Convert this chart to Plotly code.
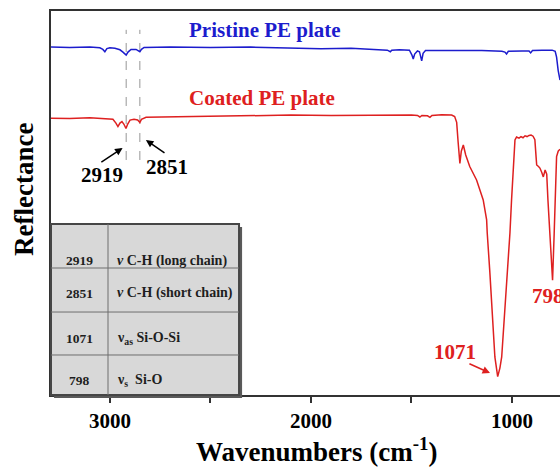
import plotly.graph_objects as go

# ---- data ----
pristine_wn = [3293, 3200, 3100, 3050, 3035, 3025, 3015, 3000, 2975, 2950, 2935, 2925, 2919, 2910,
               2895, 2870, 2860, 2851, 2843, 2830, 2700, 2500, 2300, 2100, 1950, 1800, 1700, 1620,
               1605, 1598, 1560, 1510, 1498, 1491, 1484, 1470, 1460, 1449, 1442, 1430, 1300, 1150,
               1050, 1035, 1027, 1018, 950, 915, 907, 898, 850, 800, 785, 778, 770, 761]
pristine_r = [90.6, 90.5, 90.6, 90.4, 90.0, 89.4, 90.2, 90.4, 90.3, 89.9, 89.3, 88.6, 88.5, 89.3,
              90.0, 90.0, 89.6, 89.4, 90.0, 90.5, 90.6, 90.5, 90.6, 90.4, 90.2, 90.3, 90.0, 89.8,
              89.4, 89.8, 89.9, 89.8, 88.6, 87.5, 88.8, 89.6, 89.4, 87.0, 89.0, 89.7, 89.7, 89.7,
              89.5, 89.3, 88.8, 89.5, 89.6, 89.6, 89.1, 89.7, 89.8, 89.8, 89.5, 88.0, 84.5, 82.0]

coated_wn = [3293, 3200, 3100, 3050, 3000, 2985, 2970, 2960, 2950, 2940, 2930, 2920, 2912, 2900,
             2880, 2862, 2851, 2843, 2820, 2700, 2500, 2300, 2100, 1900, 1700, 1500, 1470, 1458,
             1448, 1420, 1408, 1398, 1350, 1300, 1285, 1275, 1268, 1262, 1259, 1252, 1242, 1230,
             1210, 1176, 1143, 1126, 1123, 1110, 1101, 1085, 1071, 1060, 1051, 1040, 1027, 1010,
             1002, 993, 985, 977, 965, 955, 945, 935, 925, 915, 905, 895, 886, 880, 877, 868,
             861, 852, 844, 835, 827, 821, 811, 798, 790, 786, 778, 770, 761]
coated_r = [72.1, 72.0, 72.2, 72.1, 72.0, 71.8, 70.8, 69.9, 70.8, 71.2, 70.5, 69.4, 70.5, 71.6,
            71.8, 71.6, 71.0, 71.8, 72.3, 72.4, 72.7, 72.8, 72.9, 72.8, 72.9, 72.9, 72.8, 72.4,
            72.8, 72.7, 72.3, 72.8, 73.0, 72.9, 72.5, 71.0, 66.0, 61.0, 60.3, 63.5, 65.1, 62.5,
            59.5, 56.0, 50.8, 45.6, 42.2, 32.0, 24.7, 9.9, 4.8, 7.0, 9.9, 18.0, 29.2, 42.2,
            50.8, 60.0, 66.4, 67.2, 66.9, 67.3, 67.0, 67.5, 67.3, 67.6, 67.7, 67.4, 66.5, 62.0,
            59.9, 59.5, 59.1, 58.0, 56.8, 58.6, 57.5, 50.8, 40.0, 29.9, 42.0, 50.8, 62.1, 63.5, 64.0]

marker_wn = [2919, 2851]
marker_span = [61.2, 95.1]

table_wn = ["2919", "2851", "1071", "798"]
table_desc = ["<i>ν</i> C-H (long chain)", "<i>ν</i> C-H (short chain)",
              "ν<sub>as</sub> Si-O-Si", "ν<sub>s</sub>  Si-O"]

x_ticks = [3000, 2000, 1000]

FONT = "Liberation Serif"
BLUE = "rgb(28,28,205)"
RED = "rgb(222,32,32)"

fig = go.Figure()

for w in marker_wn:
    fig.add_trace(go.Scatter(x=[w, w], y=marker_span, mode="lines",
                             line=dict(color="rgb(150,150,150)", width=1, dash="dash"),
                             showlegend=False, hoverinfo="skip"))

fig.add_trace(go.Scatter(x=pristine_wn, y=pristine_r, mode="lines",
                         line=dict(color=BLUE, width=1.5), showlegend=False))
fig.add_trace(go.Scatter(x=coated_wn, y=coated_r, mode="lines",
                         line=dict(color=RED, width=1.5), showlegend=False))

# ---- table inset (paper coords) ----
tx1, ty1 = 0.3694, 0.4453
shapes = [
    dict(type="rect", xref="paper", yref="paper", x0=0.006, y0=-0.008, x1=tx1 + 0.006, y1=ty1 - 0.008,
         fillcolor="rgb(90,90,90)", line=dict(width=0), layer="above"),
    dict(type="rect", xref="paper", yref="paper", x0=0, y0=0, x1=tx1, y1=ty1,
         fillcolor="rgb(216,216,216)", line=dict(color="rgb(70,70,70)", width=2), layer="above"),
    dict(type="line", xref="paper", yref="paper", x0=0.112, y0=0, x1=0.112, y1=ty1,
         line=dict(color="rgb(110,110,110)", width=1), layer="above"),
]
for yl in [0.3307, 0.2161, 0.1042]:
    shapes.append(dict(type="line", xref="paper", yref="paper", x0=0, y0=yl, x1=tx1, y1=yl,
                       line=dict(color="rgb(110,110,110)", width=1), layer="above"))

annotations = []
row_y = [0.349, 0.2648, 0.1477, 0.0365]
for yv, n, d in zip(row_y, table_wn, table_desc):
    annotations.append(dict(xref="paper", yref="paper", x=0.056, y=yv, text=f"<b>{n}</b>",
                            showarrow=False, xanchor="center", yanchor="middle",
                            font=dict(family=FONT, size=13.5, color="rgb(30,30,30)")))
    annotations.append(dict(xref="paper", yref="paper", x=0.1257, y=yv, text=f"<b>{d}</b>",
                            showarrow=False, xanchor="left", yanchor="middle",
                            font=dict(family=FONT, size=14, color="rgb(30,30,30)")))

# spectrum labels
annotations += [
    dict(xref="paper", yref="paper", x=(265 - 51) / 509, y=(395 - 30) / 384, text="<b>Pristine PE plate</b>",
         showarrow=False, xanchor="center", yanchor="middle",
         font=dict(family=FONT, size=21, color=BLUE)),
    dict(xref="paper", yref="paper", x=(262 - 51) / 509, y=(395 - 98) / 384, text="<b>Coated PE plate</b>",
         showarrow=False, xanchor="center", yanchor="middle",
         font=dict(family=FONT, size=21, color=RED)),
    # peak labels
    dict(x=3040, y=57.3, text="<b>2919</b>", showarrow=False, xanchor="center", yanchor="middle",
         font=dict(family=FONT, size=21, color="black")),
    dict(x=2716, y=59.4, text="<b>2851</b>", showarrow=False, xanchor="center", yanchor="middle",
         font=dict(family=FONT, size=21, color="black")),
    dict(x=1281, y=11.1, text="<b>1071</b>", showarrow=False, xanchor="center", yanchor="middle",
         font=dict(family=FONT, size=21, color=RED)),
    dict(x=910, y=25.8, text="<b>798</b>", showarrow=False, xanchor="left", yanchor="middle",
         font=dict(family=FONT, size=21, color=RED)),
    # arrows
    dict(x=2937, y=64.3, ax=3050, ay=60.4, axref="x", ayref="y", text="", showarrow=True,
         arrowhead=2, arrowsize=1, arrowwidth=1.5, arrowcolor="black"),
    dict(x=2821, y=66.4, ax=2721, ay=62.8, axref="x", ayref="y", text="", showarrow=True,
         arrowhead=2, arrowsize=1, arrowwidth=1.5, arrowcolor="black"),
    dict(x=1109, y=5.7, ax=1219, ay=8.3, axref="x", ayref="y", text="", showarrow=True,
         arrowhead=2, arrowsize=1, arrowwidth=1.5, arrowcolor=RED),
    # axis titles
    dict(xref="paper", yref="paper", x=(316 - 51) / 509, y=(395 - 450) / 384,
         text="<b>Wavenumbers (cm<sup>-1</sup>)</b>", showarrow=False, xanchor="center", yanchor="middle",
         font=dict(family=FONT, size=27, color="black")),
    dict(xref="paper", yref="paper", x=(24 - 51) / 509, y=(395 - 190) / 384,
         text="<b>Reflectance</b>", showarrow=False, textangle=-90, xanchor="center", yanchor="middle",
         font=dict(family=FONT, size=27, color="black")),
]

fig.update_layout(
    width=560, height=472,
    margin=dict(l=51, r=0, t=11, b=77),
    paper_bgcolor="white", plot_bgcolor="white",
    shapes=shapes, annotations=annotations,
    xaxis=dict(range=[3293, 761], tickvals=x_ticks, ticks="outside", ticklen=6, tickwidth=1.5,
               tickcolor="rgb(50,50,50)", showline=True, linecolor="rgb(50,50,50)", linewidth=1.5,
               mirror=True, showgrid=False, zeroline=False,
               minor=dict(dtick=500, tick0=0, ticks="outside", ticklen=6, tickwidth=1.5,
                          tickcolor="rgb(50,50,50)", showgrid=False),
               tickfont=dict(family=FONT, size=21, color="black", weight="bold")),
    yaxis=dict(range=[0, 100], showticklabels=False, ticks="", showline=True,
               linecolor="rgb(50,50,50)", linewidth=1.5, showgrid=False, zeroline=False),
)

fig.write_html("out.html")
